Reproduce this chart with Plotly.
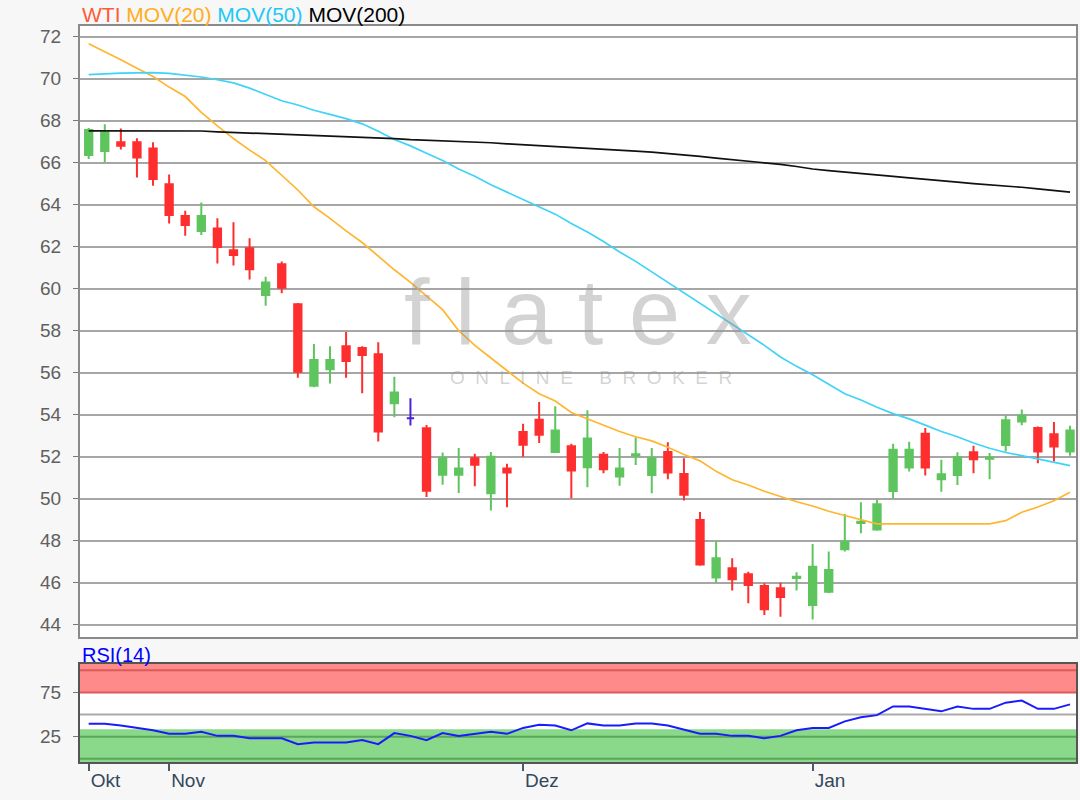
import plotly.graph_objects as go
from plotly.subplots import make_subplots

# ---------------------------------------------------------------- data
# one entry per trading session, session 0 = first candle (late October)
month_names = ["Okt", "Nov", "Dez", "Jan"]
month_first_session = [0, 5, 27, 45]

open_px = [66.37, 66.56, 66.97, 66.97, 66.68, 64.97, 63.46, 62.75, 62.87, 61.83,
           61.92, 59.70, 61.16, 59.26, 55.38, 56.16, 57.26, 57.17, 56.88, 54.54,
           53.83, 53.35, 51.14, 51.14, 51.93, 50.26, 51.44, 53.17, 53.76, 52.22,
           52.49, 51.50, 52.09, 51.05, 52.05, 51.13, 52.22, 51.17, 48.98, 46.25,
           46.68, 46.40, 45.84, 45.73, 46.22, 44.94, 45.57, 47.59, 48.84, 48.53,
           50.36, 51.48, 53.09, 50.92, 51.13, 52.21, 51.90, 52.56, 53.68, 53.36,
           53.07, 52.25]
high_px = [67.65, 67.83, 67.63, 67.16, 66.97, 65.44, 63.71, 64.11, 63.35, 63.16,
           62.40, 60.57, 61.29, 59.32, 57.36, 57.26, 57.94, 57.26, 57.45, 55.81,
           54.78, 53.51, 52.20, 52.41, 52.14, 52.22, 51.66, 53.57, 54.60, 54.40,
           52.61, 54.21, 52.22, 52.41, 52.92, 52.41, 52.69, 51.93, 49.37, 48.00,
           47.16, 46.52, 45.97, 46.00, 46.50, 47.84, 47.48, 49.27, 49.83, 49.93,
           52.61, 52.71, 53.36, 51.85, 52.21, 52.52, 52.17, 53.97, 54.24, 53.44,
           53.65, 53.47]
low_px = [66.17, 66.02, 66.63, 65.30, 64.90, 63.10, 62.52, 62.56, 61.20, 61.10,
          60.44, 59.19, 59.78, 55.76, 55.30, 55.49, 55.76, 55.02, 52.72, 53.88,
          53.48, 50.08, 50.66, 50.27, 50.59, 49.43, 49.59, 52.00, 52.65, 52.17,
          50.02, 50.54, 51.21, 50.62, 51.60, 50.26, 50.93, 49.91, 46.81, 46.00,
          45.62, 45.02, 44.46, 44.38, 45.62, 44.25, 45.49, 47.48, 48.35, 48.47,
          50.01, 51.29, 51.10, 50.33, 50.65, 51.21, 50.92, 52.25, 53.49, 51.69,
          51.77, 52.04]
close_px = [67.56, 67.44, 66.81, 66.25, 65.22, 63.51, 63.03, 63.46, 61.98, 61.60,
            60.92, 60.30, 60.05, 56.04, 56.60, 56.60, 56.55, 56.84, 53.20, 55.06,
            53.83, 50.38, 51.93, 51.44, 51.61, 52.00, 51.25, 52.57, 53.04, 53.25,
            51.34, 52.87, 51.40, 51.44, 52.12, 51.93, 51.25, 50.18, 46.87, 47.16,
            46.16, 45.89, 44.73, 45.32, 46.28, 46.76, 46.60, 47.95, 48.90, 49.73,
            52.33, 52.33, 51.48, 51.16, 51.97, 51.88, 51.96, 53.73, 53.95, 52.25,
            52.48, 53.25]
holiday_sessions = [20]  # unchanged holiday session, drawn in blue

mov20 = [71.67, 71.30, 70.90, 70.50, 70.10, 69.60, 69.15, 68.40, 67.75, 67.15,
         66.60, 66.10, 65.40, 64.70, 63.90, 63.35, 62.75, 62.20, 61.55, 60.90,
         60.30, 59.65, 59.00, 58.00, 57.30, 56.70, 56.10, 55.50, 55.00, 54.65,
         54.10, 53.80, 53.50, 53.20, 52.95, 52.75, 52.45, 52.10, 51.80, 51.30,
         50.90, 50.65, 50.35, 50.10, 49.85, 49.65, 49.40, 49.20, 49.00, 48.80,
         48.80, 48.80, 48.80, 48.80, 48.80, 48.80, 48.80, 48.95, 49.35, 49.60,
         49.90, 50.30]
mov50 = [70.19, 70.24, 70.27, 70.28, 70.29, 70.25, 70.17, 70.08, 69.95, 69.80,
         69.55, 69.25, 68.95, 68.75, 68.50, 68.30, 68.10, 67.85, 67.50, 67.10,
         66.80, 66.45, 66.10, 65.70, 65.35, 64.95, 64.60, 64.25, 63.90, 63.55,
         63.10, 62.70, 62.25, 61.75, 61.30, 60.80, 60.30, 59.80, 59.30, 58.80,
         58.30, 57.80, 57.30, 56.75, 56.30, 55.90, 55.45, 55.00, 54.70, 54.35,
         54.05, 53.80, 53.50, 53.20, 52.95, 52.65, 52.40, 52.20, 52.05, 51.90,
         51.75, 51.57]
mov200 = [67.52, 67.52, 67.52, 67.52, 67.52, 67.52, 67.52, 67.51, 67.47, 67.44,
          67.42, 67.41, 67.37, 67.34, 67.30, 67.27, 67.24, 67.22, 67.20, 67.15,
          67.10, 67.07, 67.05, 67.02, 67.00, 66.95, 66.90, 66.86, 66.82, 66.78,
          66.72, 66.68, 66.64, 66.60, 66.55, 66.50, 66.44, 66.38, 66.30, 66.22,
          66.15, 66.07, 66.00, 65.92, 65.82, 65.70, 65.62, 65.56, 65.48, 65.41,
          65.35, 65.28, 65.20, 65.13, 65.07, 65.00, 64.95, 64.90, 64.83, 64.75,
          64.68, 64.60]
rsi14 = [39.5, 39.5, 37.5, 34.9, 32.2, 28.2, 28.2, 30.6, 25.9, 25.9,
         23.1, 23.1, 23.1, 16.5, 18.4, 18.4, 18.4, 21.1, 16.5, 29.0,
         25.9, 21.1, 29.0, 25.9, 28.2, 30.6, 28.2, 34.9, 38.4, 37.6,
         32.2, 40.0, 37.6, 37.6, 40.0, 40.0, 37.6, 33.0, 28.2, 28.2,
         25.9, 25.9, 23.1, 25.9, 32.2, 34.9, 34.9, 42.3, 46.9, 49.3,
         59.1, 59.1, 56.4, 53.6, 59.1, 56.4, 56.4, 63.4, 65.8, 56.4,
         56.4, 61.5]

sessions = list(range(len(close_px)))

RED = "#ff2e2e"
GREEN = "#5ec55e"
BLUE_DOJI = "#4b22d6"
GRID = "#a6a6a6"
WATERMARK = "rgba(150,150,150,0.42)"
FONT = "Liberation Sans, Arial, sans-serif"

# ---------------------------------------------------------------- figure
fig = make_subplots(rows=2, cols=1, shared_xaxes=True)

regular = [i for i in sessions if i not in holiday_sessions]
fig.add_trace(
    go.Candlestick(
        x=[sessions[i] for i in regular],
        open=[open_px[i] for i in regular],
        high=[high_px[i] for i in regular],
        low=[low_px[i] for i in regular],
        close=[close_px[i] for i in regular],
        increasing=dict(line=dict(color=GREEN, width=2), fillcolor=GREEN),
        decreasing=dict(line=dict(color=RED, width=2), fillcolor=RED),
        hoverinfo="skip",
    ),
    row=1, col=1,
)
fig.add_trace(
    go.Candlestick(
        x=[sessions[i] for i in holiday_sessions],
        open=[open_px[i] for i in holiday_sessions],
        high=[high_px[i] for i in holiday_sessions],
        low=[low_px[i] for i in holiday_sessions],
        close=[close_px[i] for i in holiday_sessions],
        increasing=dict(line=dict(color=BLUE_DOJI, width=2), fillcolor=BLUE_DOJI),
        decreasing=dict(line=dict(color=BLUE_DOJI, width=2), fillcolor=BLUE_DOJI),
        hoverinfo="skip",
    ),
    row=1, col=1,
)

for values, color in ((mov20, "#ffb52e"), (mov50, "#3fd3f7"), (mov200, "#111111")):
    fig.add_trace(
        go.Scatter(x=sessions, y=values, mode="lines",
                   line=dict(color=color, width=1.7), hoverinfo="skip"),
        row=1, col=1,
    )

fig.add_trace(
    go.Scatter(x=sessions, y=rsi14, mode="lines",
               line=dict(color="#1a1aff", width=2), hoverinfo="skip"),
    row=2, col=1,
)

# RSI zones
rsi_top, rsi_bottom = 107.1, -3.6
fig.add_shape(type="rect", xref="x2 domain", yref="y2", x0=0, x1=1, y0=75, y1=rsi_top,
              fillcolor="#ff8a8a", line_width=0, layer="below")
fig.add_shape(type="rect", xref="x2 domain", yref="y2", x0=0, x1=1, y0=rsi_bottom, y1=33.5,
              fillcolor="#8ad88a", line_width=0, layer="below")
for level, color in ((100, "#dc5a5a"), (75, "#dc5a5a"), (50, "#aaaaaa"),
                     (25, "#5aa65a"), (0, "#5aa65a")):
    fig.add_shape(type="line", xref="x2 domain", yref="y2", x0=0, x1=1, y0=level, y1=level,
                  line=dict(color=color, width=2), layer="below")

# watermark
fig.add_annotation(text="f l a t e x", xref="x domain", yref="y domain", x=0.5, y=0.532,
                   showarrow=False, font=dict(family=FONT, size=92, color=WATERMARK))
fig.add_annotation(text="O  N  L  I  N  E     B  R  O  K  E  R", xref="x domain",
                   yref="y domain", x=0.513, y=0.424, showarrow=False,
                   font=dict(family=FONT, size=19, color=WATERMARK))

# header texts
fig.add_annotation(
    text=('<span style="color:#ff5a36">WTI</span> '
          '<span style="color:#ffae1a">MOV(20)</span> '
          '<span style="color:#22c8f5">MOV(50)</span> '
          '<span style="color:#000000">MOV(200)</span>'),
    xref="paper", yref="paper", x=0.0, y=1.0163, xanchor="left", yanchor="middle",
    showarrow=False, font=dict(family=FONT, size=21),
)
fig.add_annotation(
    text="RSI(14)", xref="paper", yref="paper", x=0.0, y=0.1454,
    xanchor="left", yanchor="middle", showarrow=False,
    font=dict(family=FONT, size=20, color="#0000ff"),
)

fig.update_layout(
    width=1080,
    height=800,
    margin=dict(l=80, r=2, t=26, b=38),
    paper_bgcolor="#f7f7f7",
    plot_bgcolor="#ffffff",
    showlegend=False,
    boxgap=0.35,
    font=dict(family=FONT, size=19, color="#606060"),
    xaxis=dict(range=[-0.54, 61.37], showgrid=False, zeroline=False, showticklabels=False,
               ticks="", showline=True, mirror=True, linecolor="#8a8a8a", linewidth=2,
               rangeslider=dict(visible=False)),
    yaxis=dict(domain=[0.1698, 1], range=[43.41, 72.51], dtick=2, tick0=44,
               showgrid=True, gridcolor=GRID, gridwidth=2, zeroline=False,
               ticks="outside", ticklen=5, tickcolor="#777777", ticklabelstandoff=8,
               showline=True, mirror=True, linecolor="#8a8a8a", linewidth=2),
    xaxis2=dict(range=[-0.54, 61.37], showgrid=False, zeroline=False,
                tickmode="array", tickvals=month_first_session, ticktext=month_names,
                ticks="outside", ticklen=7, tickwidth=2, tickcolor="#4a5a6a",
                ticklabelposition="outside right",
                tickfont=dict(color="#34475c", size=19),
                showline=True, mirror=True, linecolor="#555555", linewidth=2),
    yaxis2=dict(domain=[0, 0.1332], range=[rsi_bottom, rsi_top],
                tickmode="array", tickvals=[25, 75], showgrid=False, zeroline=False,
                ticks="outside", ticklen=5, tickcolor="#777777", ticklabelstandoff=8,
                showline=True, mirror=True, linecolor="#555555", linewidth=2),
)

# the page's default body margin would shift the figure by 8px
fig.write_html("out.html", config={"displayModeBar": False},
               post_script="document.body.style.margin='0';")
